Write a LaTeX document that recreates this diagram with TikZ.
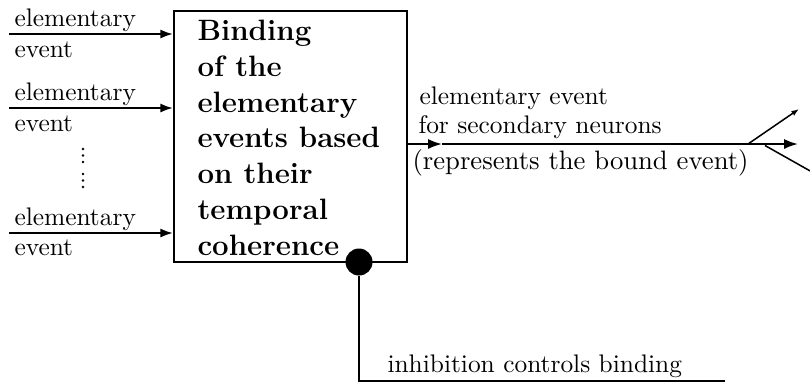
\documentclass[tikz,border=0pt]{standalone}
\usetikzlibrary{arrows.meta}
\def\px{0.3937pt}
\begin{document}
\begin{tikzpicture}[x=0.3937pt,y=-0.3937pt,
  wire/.style={line width=0.8pt},
  intip/.style={-{Latex[length=5pt,width=3.6pt]}},
  outtip/.style={-{Latex[length=5.5pt,width=4pt]}},
  lbl/.style={inner sep=0pt,anchor=base west,font=\fontsize{10}{12}\selectfont},
  boxtext/.style={inner sep=0pt,anchor=north west,align=left,
    font=\fontsize{11.6}{14.1}\selectfont\bfseries},
  binder/.style={draw,line width=0.8pt,minimum width=233*\px,minimum height=251*\px,inner sep=0pt},
  dotmark/.style={fill,inner sep=0pt,circle,minimum size=2.8*\px},
  inhib/.style={fill,circle,inner sep=0pt,minimum size=27*\px}]
\useasboundingbox (0,0) rectangle (810,383);

% central binding unit
\node[binder] (box) at (290.5,136.5) {};
\node[boxtext] (boxlbl) at (197,19.5)
  {Binding\\of the\\elementary\\events based\\on their\\temporal\\coherence};

% elementary event inputs
\coordinate (in1) at (9,34);
\coordinate (in2) at (9,108);
\coordinate (in3) at (9,233);
\draw[wire,intip] (in1) -- (box.west |- in1);
\draw[wire,intip] (in2) -- (box.west |- in2);
\draw[wire,intip] (in3) -- (box.west |- in3);
\node[lbl] (e1a) at (14,26) {elementary};
\node[lbl] (e1b) at (14,57) {event};
\node[lbl] (e2a) at (14,100) {elementary};
\node[lbl] (e2b) at (14,131) {event};
\node[lbl] (e3a) at (14,225) {elementary};
\node[lbl] (e3b) at (14,255) {event};

% omitted inputs
\foreach \yy [count=\k] in {149,155.5,162,174,180.5,187}
  \node[dotmark] (dot\k) at (83,\yy) {};

% output towards the secondary neurons
\coordinate (outmid) at (442,144);
\coordinate (outend) at (798,144);
\draw[wire,outtip] (box.east |- outmid) -- (outmid);
\draw[wire,outtip] (outmid) -- (outend);
\coordinate (fanup0) at (748,144);
\coordinate (fanup1) at (799,109);
\coordinate (fandn0) at (765,145.5);
\coordinate (fandn1) at (812,172);
\draw[line width=0.6pt,-{Latex[length=3pt,width=2.2pt]}] (fanup0) -- (fanup1);
\draw[line width=0.6pt] (fandn0) -- (fandn1);
\node[lbl] (o1) at (419,104) {elementary event};
\node[lbl] (o2) at (418,133) {for secondary neurons};
\node[lbl,font=\fontsize{10.5}{12}\selectfont] (o3) at (412,169)
  {(represents the bound event)};

% inhibitory control
\node[inhib] (inh) at (359,262) {};
\coordinate (inhcorner) at (359,381);
\coordinate (inhend) at (725,381);
\draw[wire] (inh) -- (inhcorner) -- (inhend);
\node[lbl] (inhlbl) at (387,372) {inhibition controls binding};
\end{tikzpicture}
\end{document}
